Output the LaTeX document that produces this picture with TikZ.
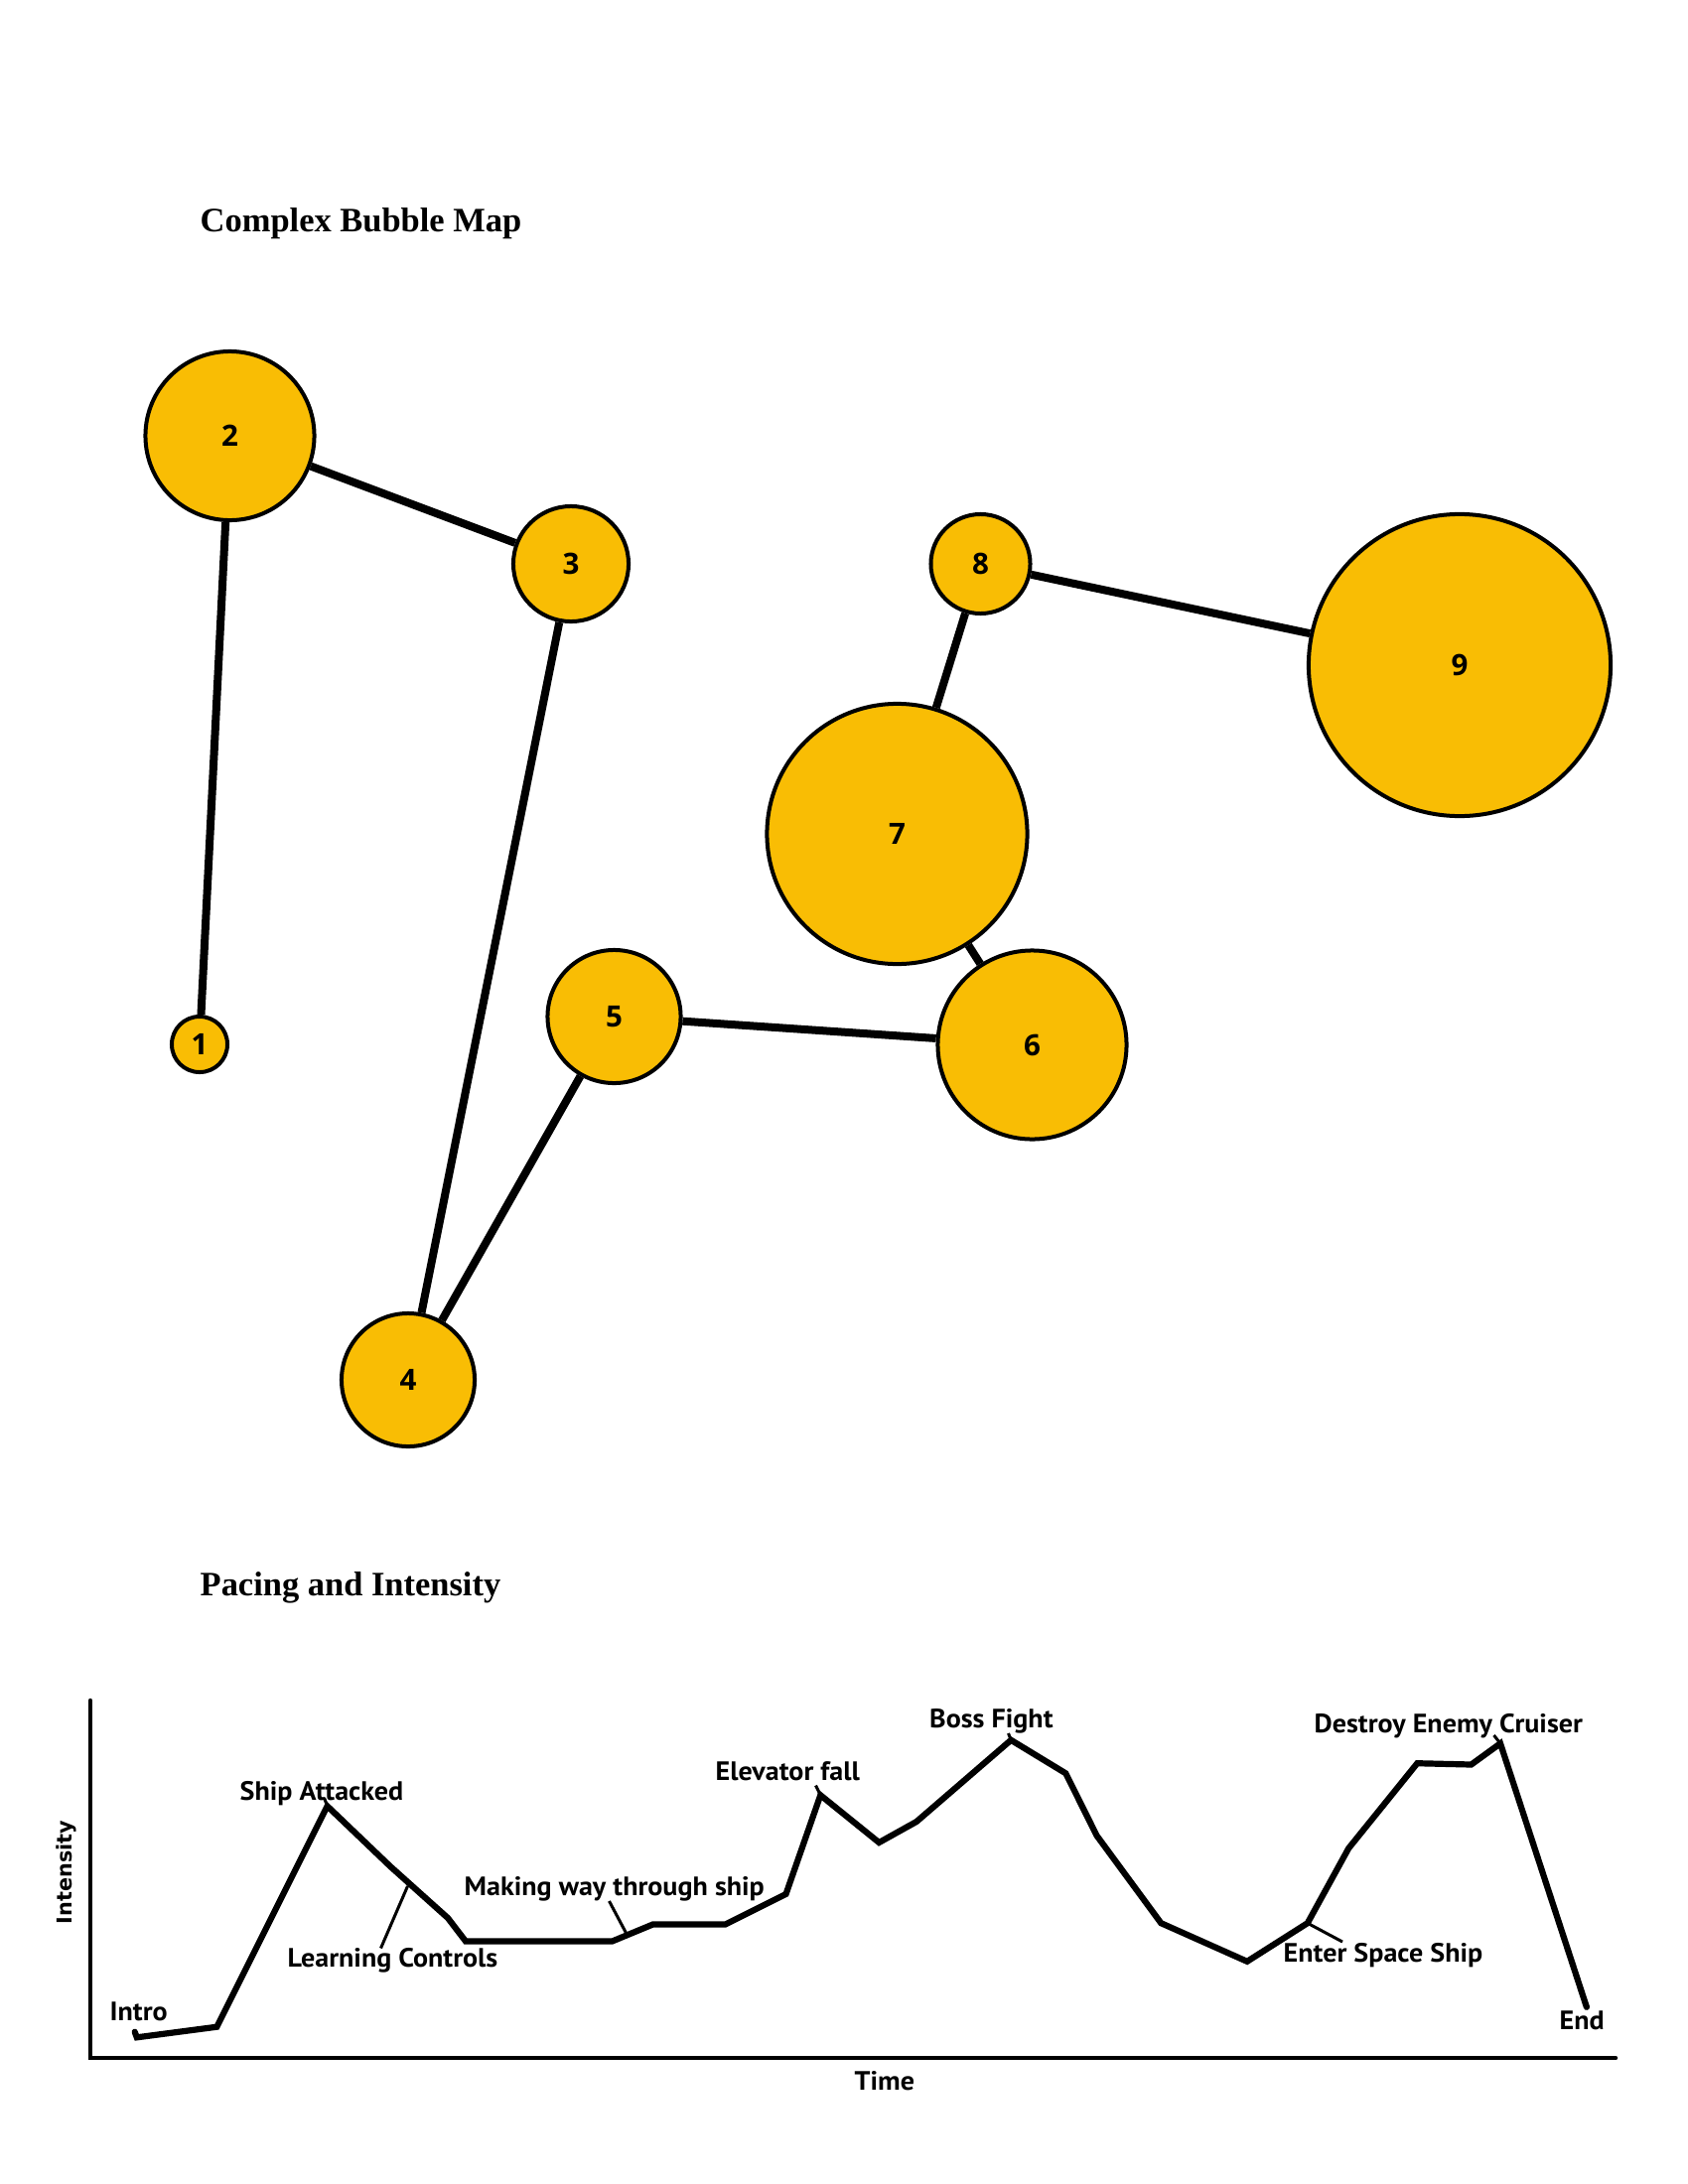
\documentclass[tikz,border=0pt]{standalone}
\usepackage{fontspec}
\setmainfont{Liberation Serif}
\newfontfamily\numfont{Open Sans}
\newfontfamily\labfont{PT Sans}[FakeStretch=1.05]
\newfontfamily\dvfont{DejaVu Sans}
\definecolor{bubble}{RGB}{249,189,4}
\begin{document}
\begin{tikzpicture}[x=0.01cm,y=-0.01cm,
  bub/.style={circle,draw=black,line width=0.4mm,fill=bubble,inner sep=0pt,
    font=\numfont\bfseries\fontsize{8.4}{9}\selectfont},
  edge/.style={line width=0.8mm},
  ttl/.style={anchor=base west,inner sep=0pt,font=\bfseries\fontsize{9.8}{11}\selectfont},
  lab/.style={anchor=base west,inner sep=0pt,font=\labfont\bfseries\fontsize{7.6}{8}\selectfont},
  curve/.style={line width=0.62mm,line join=miter,line cap=round},
  lead/.style={line width=0.3mm},
  axis/.style={line width=0.45mm,line cap=round}]
\useasboundingbox (0,0) rectangle (1700,2200);

% titles
\node[ttl] (t1) at (201,233) {Complex Bubble Map};
\node[ttl] (t2) at (201,1607) {Pacing and Intensity};

% bubbles
\node[bub,minimum size=0.56cm] (n1) at (201,1052) {1};
\node[bub,minimum size=1.70cm] (n2) at (231.5,439) {2};
\node[bub,minimum size=1.16cm] (n3) at (575,568) {3};
\node[bub,minimum size=1.34cm] (n4) at (411,1390) {4};
\node[bub,minimum size=1.34cm] (n5) at (618.5,1024) {5};
\node[bub,minimum size=1.90cm] (n6) at (1039.5,1052.5) {6};
\node[bub,minimum size=2.62cm] (n7) at (903.5,840) {7};
\node[bub,minimum size=1.00cm] (n8) at (987.5,568) {8};
\node[bub,minimum size=3.04cm] (n9) at (1470,670) {9};

\draw[edge] (n1) -- (n2);
\draw[edge] (n2) -- (n3);
\draw[edge] (n3) -- (n4);
\draw[edge] (n4) -- (n5);
\draw[edge] (n5) -- (n6);
\draw[edge] (n6) -- (n7);
\draw[edge] (n7) -- (n8);
\draw[edge] (n8) -- (n9);

% axes
\coordinate (o) at (91,2073);
\coordinate (ytop) at (91,1713);
\coordinate (xend) at (1627,2073);
\draw[axis] (ytop) -- (o) -- (xend);
\node[font=\dvfont\bfseries\fontsize{5.9}{7}\selectfont,rotate=90,inner sep=0pt] (ylab) at (67,1886) {Intensity};
\node[lab] (xlab) at (860,2105) {Time};

% pacing curve
\coordinate (p0) at (135.7,2046.7);
\coordinate (p1) at (137.8,2052.3);
\coordinate (p2) at (218.4,2041.7);
\coordinate (pShip) at (329.6,1819.3);
\coordinate (p4) at (393,1880);
\coordinate (p5) at (451,1932);
\coordinate (p6) at (469,1955.5);
\coordinate (p7) at (616.5,1955.5);
\coordinate (p8) at (657.5,1938.5);
\coordinate (p9) at (730.5,1938.5);
\coordinate (p10) at (791.5,1908);
\coordinate (pElev) at (826.3,1808.3);
\coordinate (p12) at (885.3,1856);
\coordinate (p13) at (923,1835);
\coordinate (pBoss) at (1018.2,1752.8);
\coordinate (p15) at (1073.3,1786.3);
\coordinate (p16) at (1104.5,1849);
\coordinate (p17) at (1169.3,1937.2);
\coordinate (p18) at (1256,1975.8);
\coordinate (pEnter) at (1316.8,1937.2);
\coordinate (p20) at (1358.2,1861.8);
\coordinate (p21) at (1427.3,1776.2);
\coordinate (p22) at (1481.7,1777.5);
\coordinate (pDest) at (1511,1756.2);
\coordinate (pEnd) at (1597.9,2021.8);
\draw[curve] (p0) -- (p1) -- (p2) -- (pShip) -- (p4) -- (p5) -- (p6) -- (p7) -- (p8) -- (p9) -- (p10) -- (pElev) -- (p12) -- (p13) -- (pBoss) -- (p15) -- (p16) -- (p17) -- (p18) -- (pEnter) -- (p20) -- (p21) -- (p22) -- (pDest) -- (pEnd);

% labels
\node[lab] (lIntro) at (110,2035) {Intro};
\node[lab] (lShip) at (241,1813) {Ship Attacked};
\node[lab] (lLearn) at (289,1981.5) {Learning Controls};
\node[lab] (lMake) at (467,1909) {Making way through ship};
\node[lab] (lElev) at (720,1793) {Elevator fall};
\node[lab] (lBoss) at (935.5,1740) {Boss Fight};
\node[lab] (lDest) at (1323,1745) {Destroy Enemy Cruiser};
\node[lab] (lEnter) at (1292,1976) {Enter Space Ship};
\node[lab] (lEnd) at (1570,2044) {End};

% small pointer ticks
\coordinate (tShip) at (326.5,1811);
\coordinate (tElev) at (821.5,1798.5);
\coordinate (tBoss) at (1015.5,1746);
\coordinate (tDest) at (1504.5,1748);
\draw[lead] (pShip) -- (tShip);
\draw[lead] (pElev) -- (tElev);
\draw[lead] (pBoss) -- (tBoss);
\draw[lead] (pDest) -- (tDest);

% leader lines
\coordinate (aLearn) at (410.5,1900);
\coordinate (bLearn) at (383.5,1962.5);
\draw[lead] (aLearn) -- (bLearn);
\coordinate (aMake) at (613.5,1915);
\coordinate (bMake) at (631,1948);
\draw[lead] (aMake) -- (bMake);
\coordinate (bEnter) at (1352,1956);
\draw[lead] (pEnter) -- (bEnter);
\end{tikzpicture}
\end{document}
